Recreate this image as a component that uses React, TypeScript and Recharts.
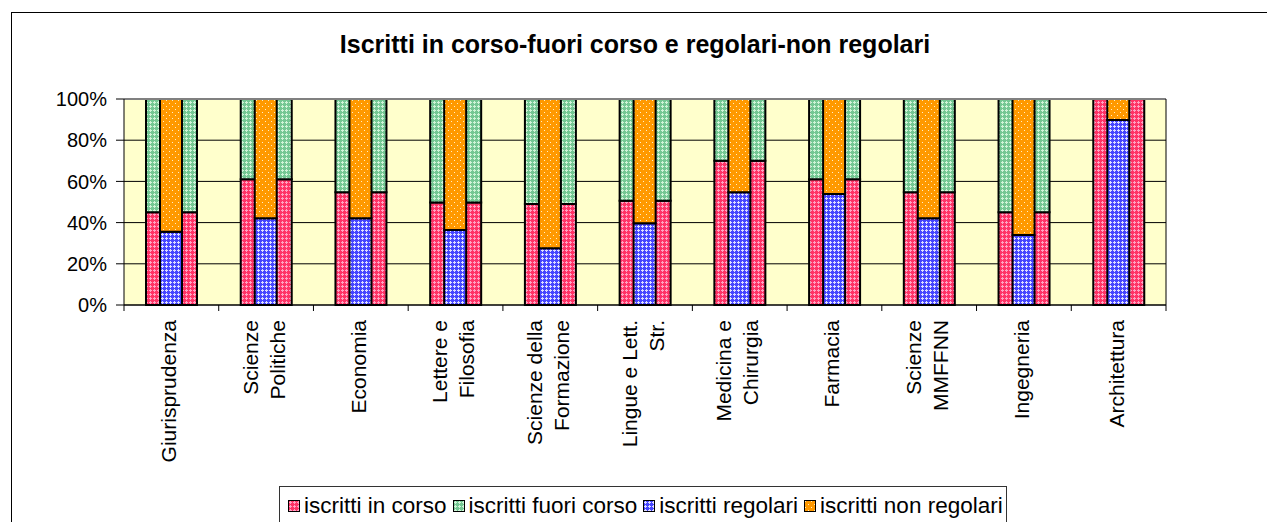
import { BarChart, Bar, XAxis, YAxis, CartesianGrid, ReferenceLine } from 'recharts';

// Facoltà (line breaks as in the original axis labels)
const categories = [
  'Giurisprudenza',
  'Scienze\nPolitiche',
  'Economia',
  'Lettere e\nFilosofia',
  'Scienze della\nFormazione',
  'Lingue e Lett.\nStr.',
  'Medicina e\nChirurgia',
  'Farmacia',
  'Scienze\nMMFFNN',
  'Ingegneria',
  'Architettura',
];

// percentages
const inCorso = [45.0, 61.0, 54.7, 49.8, 49.0, 50.6, 70.0, 61.0, 54.7, 45.0, 100];
const fuoriCorso = [55.0, 39.0, 45.3, 50.2, 51.0, 49.4, 30.0, 39.0, 45.3, 55.0, 0];
const regolari = [35.6, 42.1, 42.1, 36.4, 27.5, 39.7, 54.7, 53.9, 42.1, 34.0, 89.8];
const nonRegolari = [64.4, 57.9, 57.9, 63.6, 72.5, 60.3, 45.3, 46.1, 57.9, 66.0, 10.2];

const yTicks = [0, 20, 40, 60, 80, 100];

const seriesNames = ['iscritti in corso', 'iscritti fuori corso', 'iscritti regolari', 'iscritti non regolari'];
const seriesFills = ['url(#patPink)', 'url(#patGreen)', 'url(#patBlue)', 'url(#patOrange)'];

const data = categories.map((name, i) => ({
  name,
  inCorso: inCorso[i],
  fuoriCorso: fuoriCorso[i],
  regolari: regolari[i],
  nonRegolari: nonRegolari[i],
}));

const FONT = 'Arial, "Liberation Sans", sans-serif';
const W = 1267;
const H = 522;
const PLOT_W = 1042;
const BAND = PLOT_W / categories.length;

function CategoryTick(props: any) {
  const { x, y, payload, index } = props;
  const lines = String(payload.value).split('\n');
  const n = lines.length;
  return (
    <g>
      <line x1={x - BAND / 2} x2={x - BAND / 2} y1={y} y2={y + 6} stroke="#000" />
      {index === categories.length - 1 && (
        <line x1={x + BAND / 2} x2={x + BAND / 2} y1={y} y2={y + 6} stroke="#000" />
      )}
      {lines.map((ln, i) => {
        const bx = x + 5 + (i - (n - 1) / 2) * 27;
        return (
          <text
            key={i}
            x={bx}
            y={y + 15}
            transform={`rotate(-90, ${bx}, ${y + 15})`}
            textAnchor="end"
            fontSize={21}
            fontFamily={FONT}
            fill="#000"
          >
            {ln}
          </text>
        );
      })}
    </g>
  );
}

function Patterns() {
  return (
    <svg width={0} height={0} style={{ position: 'absolute' }}>
      <defs>
        <pattern id="patPink" width="4" height="4" patternUnits="userSpaceOnUse">
          <rect width="4" height="4" fill="#FF3366" />
          <rect x="2" y="1" width="1" height="3" fill="#FFA3C2" />
          <rect x="1" y="2" width="3" height="1" fill="#FFA3C2" />
        </pattern>
        <pattern id="patGreen" width="4" height="4" patternUnits="userSpaceOnUse">
          <rect width="4" height="4" fill="#74C793" />
          <rect x="2" y="1" width="1" height="3" fill="#D0F4D8" />
          <rect x="1" y="2" width="3" height="1" fill="#D0F4D8" />
        </pattern>
        <pattern id="patBlue" width="4" height="4" patternUnits="userSpaceOnUse">
          <rect width="4" height="4" fill="#4646FF" />
          <rect x="2" y="1" width="1" height="3" fill="#DDDDFF" />
          <rect x="1" y="2" width="3" height="1" fill="#DDDDFF" />
        </pattern>
        <pattern id="patOrange" width="6" height="6" patternUnits="userSpaceOnUse">
          <rect width="6" height="6" fill="#FF9900" />
          <rect x="1" y="1" width="1" height="1" fill="#FFEFC8" />
          <rect x="4" y="4" width="1" height="1" fill="#FFEFC8" />
        </pattern>
      </defs>
    </svg>
  );
}

export default function App() {
  return (
    <div
      style={{
        position: 'absolute',
        left: 0,
        top: 0,
        width: W,
        height: H,
        overflow: 'hidden',
        background: '#fff',
        fontFamily: FONT,
      }}
    >
      <Patterns />
      <div
        style={{
          position: 'absolute',
          left: 11,
          top: 12,
          width: W - 11,
          height: H - 12,
          borderTop: '1.5px solid #000',
          borderLeft: '1.5px solid #000',
          boxSizing: 'border-box',
        }}
      />
      <div
        style={{
          position: 'absolute',
          left: 11,
          top: 32,
          width: 1248,
          textAlign: 'center',
          fontSize: 25,
          lineHeight: '25px',
          fontWeight: 'bold',
        }}
      >
        Iscritti in corso-fuori corso e regolari-non regolari
      </div>

      <div style={{ position: 'absolute', left: 0, top: 0 }}>
        <BarChart
          width={W}
          height={H}
          data={data}
          margin={{ top: 99, right: 41, bottom: 97, left: 64 }}
          barGap={0}
        >
          <CartesianGrid
            xAxisId="a"
            yAxisId="l"
            vertical={false}
            stroke="#000"
            fill="#FFFFCC"
            fillOpacity={1}
          />
          <XAxis
            xAxisId="a"
            dataKey="name"
            height={120}
            interval={0}
            tickSize={0}
            tickMargin={0}
            tickLine={false}
            axisLine={{ stroke: '#000' }}
            tick={<CategoryTick />}
          />
          <XAxis xAxisId="b" dataKey="name" hide />
          <YAxis
            yAxisId="l"
            orientation="left"
            width={60}
            domain={[0, 100]}
            ticks={yTicks}
            tickFormatter={(v) => `${v}%`}
            tickSize={8}
            tickMargin={9}
            tickLine={{ stroke: '#000' }}
            axisLine={{ stroke: '#000' }}
            tick={{ fill: '#000', fontSize: 20, fontFamily: FONT }}
          />
          <YAxis
            yAxisId="r"
            orientation="right"
            width={60}
            domain={[0, 100]}
            ticks={yTicks}
            tickFormatter={(v) => `${v}%`}
            tickSize={6}
            tickMargin={11}
            tickLine={{ stroke: '#000' }}
            axisLine={{ stroke: '#000' }}
            tick={{ fill: '#000', fontSize: 20, fontFamily: FONT }}
          />
          <ReferenceLine xAxisId="a" yAxisId="l" y={100} stroke="#808080" strokeWidth={2} />
          <Bar xAxisId="a" yAxisId="l" dataKey="inCorso" name={seriesNames[0]} stackId="w" barSize={51}
            fill={seriesFills[0]} stroke="#000" strokeWidth={2} isAnimationActive={false} />
          <Bar xAxisId="a" yAxisId="l" dataKey="fuoriCorso" name={seriesNames[1]} stackId="w" barSize={51}
            fill={seriesFills[1]} stroke="#000" strokeWidth={2} isAnimationActive={false} />
          <Bar xAxisId="b" yAxisId="l" dataKey="regolari" name={seriesNames[2]} stackId="n" barSize={22}
            fill={seriesFills[2]} stroke="#000" strokeWidth={2} isAnimationActive={false} />
          <Bar xAxisId="b" yAxisId="l" dataKey="nonRegolari" name={seriesNames[3]} stackId="n" barSize={22}
            fill={seriesFills[3]} stroke="#000" strokeWidth={2} isAnimationActive={false} />
        </BarChart>
      </div>

      <div
        style={{
          position: 'absolute',
          left: 279,
          top: 486,
          width: 728,
          height: 50,
          border: '1.5px solid #333',
          boxSizing: 'border-box',
          fontSize: 22.5,
          whiteSpace: 'nowrap',
        }}
      >
        <div style={{ position: 'absolute', left: 8, top: 6, height: 26, display: 'flex', alignItems: 'center' }}>
          {seriesNames.map((s, i) => (
            <span key={s} style={{ display: 'inline-flex', alignItems: 'center', marginRight: 6 }}>
              <svg width={12} height={12} style={{ marginRight: 4 }}>
                <rect x={0.5} y={0.5} width={11} height={11} fill={seriesFills[i]} stroke="#000" />
              </svg>
              {s}
            </span>
          ))}
        </div>
      </div>
    </div>
  );
}
